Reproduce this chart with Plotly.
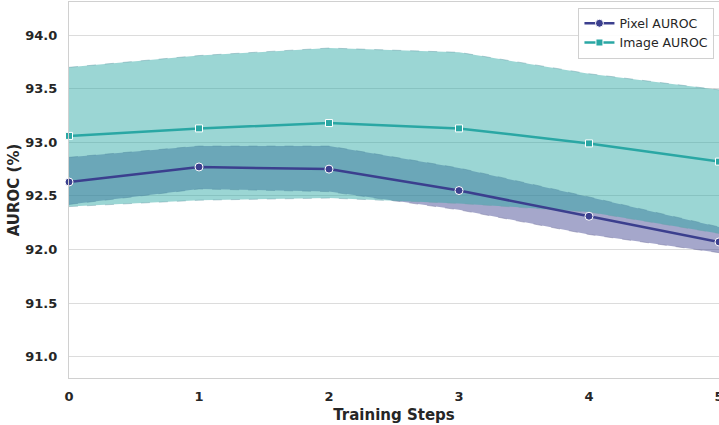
import plotly.graph_objects as go

steps = [0, 1, 2, 3, 4, 5]
pixel_mean = [92.63, 92.77, 92.75, 92.55, 92.31, 92.07]
pixel_upper = [92.86, 92.965, 92.965, 92.76, 92.49, 92.21]
pixel_lower = [92.42, 92.565, 92.54, 92.37, 92.14, 91.97]
image_mean = [93.06, 93.13, 93.18, 93.13, 92.99, 92.82]
image_upper = [93.70, 93.81, 93.88, 93.84, 93.64, 93.49]
image_lower = [92.40, 92.46, 92.48, 92.43, 92.35, 92.15]
y_ticks = [91.0, 91.5, 92.0, 92.5, 93.0, 93.5, 94.0]

pix_col = "#3b3f8e"
img_col = "#2aa7a4"
pix_fill = "rgba(59,63,142,0.46)"
img_fill = "rgba(42,167,164,0.47)"

fig = go.Figure()

def band(lower, upper, fill, edge):
    fig.add_trace(go.Scatter(x=steps, y=lower, mode="lines",
                             line=dict(color=edge, width=0.8, dash="dash"),
                             showlegend=False, hoverinfo="skip"))
    fig.add_trace(go.Scatter(x=steps, y=upper, mode="lines", fill="tonexty",
                             fillcolor=fill,
                             line=dict(color=edge, width=0.8, dash="dash"),
                             showlegend=False, hoverinfo="skip"))

band(pixel_lower, pixel_upper, pix_fill, "rgba(120,120,160,0.6)")
band(image_lower, image_upper, img_fill, "rgba(110,160,170,0.6)")

fig.add_trace(go.Scatter(x=steps, y=pixel_mean, mode="lines+markers", name="Pixel AUROC",
                         line=dict(color=pix_col, width=2.5),
                         marker=dict(symbol="circle", size=8, color=pix_col,
                                     line=dict(color="white", width=1)),
                         cliponaxis=False))
fig.add_trace(go.Scatter(x=steps, y=image_mean, mode="lines+markers", name="Image AUROC",
                         line=dict(color=img_col, width=2.5),
                         marker=dict(symbol="square", size=7, color=img_col,
                                     line=dict(color="white", width=1)),
                         cliponaxis=False))

fig.update_layout(
    width=719, height=425,
    margin=dict(l=69, r=0, t=2, b=47, autoexpand=False),
    paper_bgcolor="white", plot_bgcolor="white",
    font=dict(family="DejaVu Sans", color="#262626"),
    legend=dict(x=0.993, y=0.985, xanchor="right", yanchor="top",
                traceorder="normal",
                bgcolor="rgba(255,255,255,0.9)", bordercolor="#d0d0d0", borderwidth=1,
                font=dict(size=12.5, family="DejaVu Sans", color="#262626"),
                tracegroupgap=0, itemwidth=30),
    showlegend=True,
)
fig.update_xaxes(range=[0, 5], tickvals=steps, ticktext=[str(s) for s in steps],
                 showgrid=False, zeroline=False, automargin=False,
                 showline=True, linecolor="#d0d0d0", linewidth=1.2, mirror=True,
                 tickfont=dict(size=13, weight="bold", family="DejaVu Sans"),
                 ticklabeloverflow="allow",
                 title=dict(text="Training Steps", font=dict(size=15, weight="bold", family="DejaVu Sans"),
                            standoff=6),
                 ticks="", ticklabelstandoff=6)
fig.update_yaxes(range=[90.80, 94.31], tickvals=y_ticks, ticktext=[f"{v:.1f}" for v in y_ticks],
                 showgrid=True, gridcolor="#dcdcdc", gridwidth=1.2, zeroline=False,
                 showline=True, linecolor="#d0d0d0", linewidth=1.2, mirror=True,
                 tickfont=dict(size=13, weight="bold", family="DejaVu Sans"),
                 title=dict(text="AUROC (%)", font=dict(size=15, weight="bold", family="DejaVu Sans"),
                            standoff=1),
                 ticks="", ticklabelstandoff=8)

fig.write_html("out.html")
